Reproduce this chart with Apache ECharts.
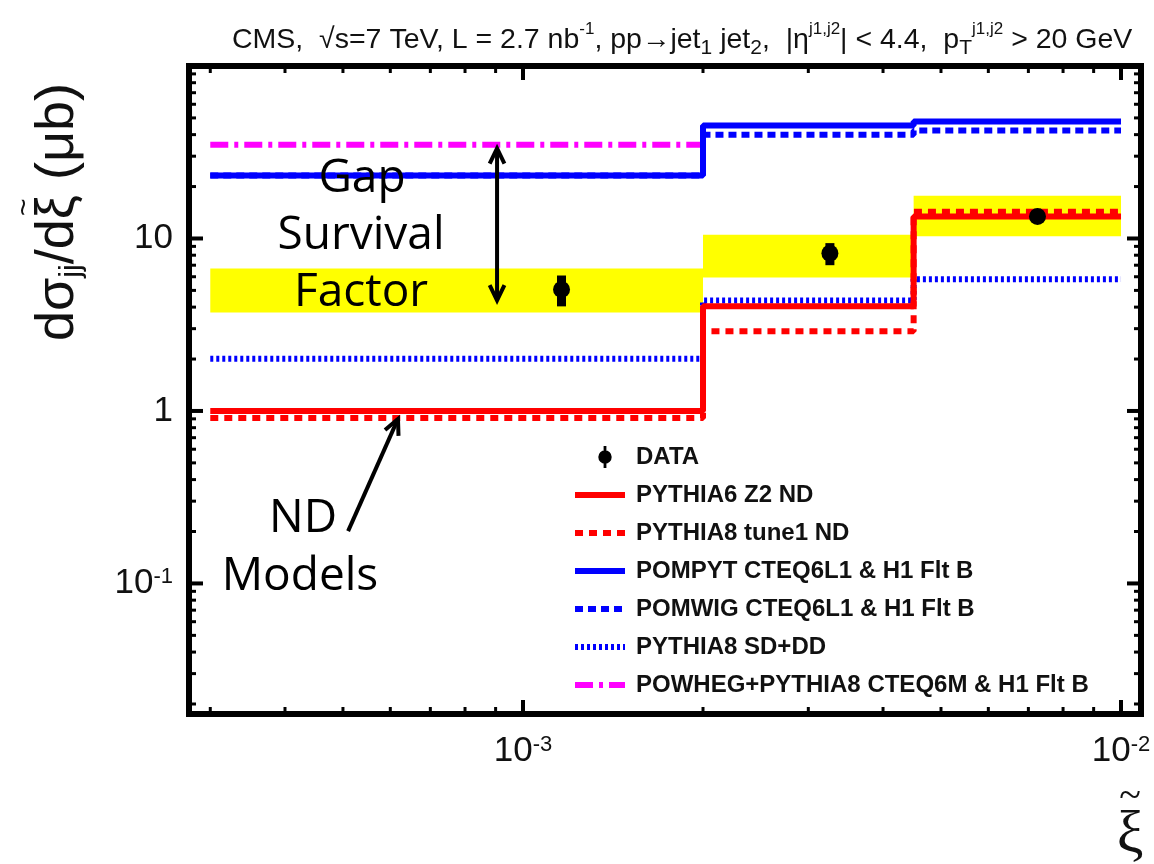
<!DOCTYPE html>
<html>
<head>
<meta charset="utf-8">
<script src="https://cdn.jsdelivr.net/npm/echarts@6/dist/echarts.min.js"></script>
<style>
html,body{margin:0;padding:0;background:#fff;}
#chart{width:1154px;height:864px;}
</style>
</head>
<body>
<div id="chart"></div>
<script>
// ---------- data ----------
const binEdges = [0.0003, 0.002, 0.0045, 0.01];

const pythia6Z2ND     = [1.0, 4.05, 13.4];
const pythia8Tune1ND  = [0.91, 2.9, 14.3];
const pompyt          = [23.2, 45.2, 47.7];
const pomwig          = [23.2, 40.0, 42.3];
const pythia8SDDD     = [2.01, 4.37, 5.8];
const powhegPythia8   = [35.0];          // first bin only

const bandLow  = [3.72, 5.94, 10.3];
const bandHigh = [6.7, 10.5, 17.7];

const dataX    = [0.00116, 0.00326, 0.00725];
const dataY    = [5.06, 8.2, 13.4];
const dataLow  = [4.04, 7.0, 12.7];
const dataHigh = [6.1, 9.4, 14.1];

const xMajorTicks = [0.001, 0.01];
const xMinorTicks = [0.0003, 0.0004, 0.0005, 0.0006, 0.0007, 0.0008, 0.0009,
                     0.002, 0.003, 0.004, 0.005, 0.006, 0.007, 0.008, 0.009];
const yMajorTicks = [0.1, 1, 10];
const yMinorTicks = [0.02, 0.03, 0.04, 0.05, 0.06, 0.07, 0.08, 0.09,
                     0.2, 0.3, 0.4, 0.5, 0.6, 0.7, 0.8, 0.9,
                     2, 3, 4, 5, 6, 7, 8, 9,
                     20, 30, 40, 50, 60, 70, 80, 90];

const legendNames = ['DATA', 'PYTHIA6 Z2 ND', 'PYTHIA8 tune1 ND', 'POMPYT CTEQ6L1 & H1 Flt B',
                     'POMWIG CTEQ6L1 & H1 Flt B', 'PYTHIA8 SD+DD', 'POWHEG+PYTHIA8 CTEQ6M & H1 Flt B'];

// annotation arrows (data coordinates): [x1, y1, x2, y2, doubleHeaded]
const gapArrow = [0.000905, 33.3, 0.000905, 4.37, 1];
const ndArrow  = [0.000510, 0.201, 0.000618, 0.899, 0];

const xMin = 0.0002764, xMax = 0.0108;
const yMin = 0.0175, yMax = 100;

// ---------- helpers ----------
function stepData(vals) {
  const out = [];
  for (let i = 0; i < vals.length; i++) out.push([binEdges[i], vals[i]]);
  out.push([binEdges[vals.length], vals[vals.length - 1]]);
  return out;
}
function powLabel(v, hideTop) {
  const e = Math.log10(v);
  const r = Math.round(e);
  if (Math.abs(e - r) > 1e-6) return '';
  if (hideTop && r === 2) return '';
  if (r === 0) return '1';
  if (r === 1) return '10';
  return '10{sup|' + r + '}';
}
const FAM = '"Liberation Sans", Arial, Helvetica, sans-serif';
const mctx = document.createElement('canvas').getContext('2d');
function tw(txt, size) { mctx.font = size + 'px ' + FAM; return mctx.measureText(txt).width; }

const tickData = [];
xMajorTicks.forEach(v => tickData.push([v, 1, 0, 1]));
xMinorTicks.forEach(v => tickData.push([v, 1, 0, 0]));
yMajorTicks.forEach(v => tickData.push([0.001, v, 1, 1]));
yMinorTicks.forEach(v => tickData.push([0.001, v, 1, 0]));

const bandData = bandLow.map((lo, i) => [binEdges[i], binEdges[i + 1], lo, bandHigh[i]]);
const pointData = dataX.map((x, i) => [x, dataY[i], dataLow[i], dataHigh[i]]);

function stepSeries(name, vals, color, type, z) {
  return {
    name: name, type: 'line', step: 'end', data: stepData(vals),
    symbol: 'none', silent: true, z: z,
    lineStyle: { color: color, width: 6, type: type, cap: 'butt' },
    itemStyle: { color: color }
  };
}

// ---- y axis name built as rotated group (tilde placed over xi) ----
const YS = 54, YSUB = 30;
const w1 = tw('d\u03C3', YS), wSub = tw('jj', YSUB), w2 = tw('/d', YS), wXi = tw('\u03BE', YS), w3 = tw(' (\u03BCb)', YS);
const yNameW = w1 + wSub + w2 + wXi + w3;
const xXi = w1 + wSub + w2;
const yNameStyle = (t, s) => ({ text: t, fill: '#111', font: s + 'px ' + FAM, align: 'left', verticalAlign: 'middle' });
const yNameGroup = {
  type: 'group', x: 58, y: 212 + yNameW / 2, rotation: Math.PI / 2, z: 10,
  children: [
    { type: 'text', x: 0, y: 0, style: yNameStyle('d\u03C3', YS) },
    { type: 'text', x: w1, y: 14, style: yNameStyle('jj', YSUB) },
    { type: 'text', x: w1 + wSub, y: 0, style: yNameStyle('/d', YS) },
    { type: 'text', x: xXi, y: 0, style: yNameStyle('\u03BE', YS) },
    { type: 'text', x: xXi + wXi / 2, y: -33, style: Object.assign(yNameStyle('~', 30), { align: 'center' }) },
    { type: 'text', x: xXi + wXi, y: 0, style: yNameStyle(' (\u03BCb)', YS) }
  ]
};

const chart = echarts.init(document.getElementById('chart'), null, { renderer: 'canvas' });

const ann = (t, x, y) => ({ type: 'text', x: x, y: y, z: 10,
  style: { text: t, fill: '#000', font: '46px "Open Sans", sans-serif', align: 'center', verticalAlign: 'middle' } });

const option = {
  animation: false,
  backgroundColor: '#fff',
  title: {
    text: 'CMS,  \u221As=7 TeV, L = 2.7 nb{sup|-1}, pp\u2192jet{sub|1} jet{sub|2},  |\u03B7{sup|j1,j2}| < 4.4,  p{sub|T}{sup|j1,j2} > 20 GeV',
    left: 227, top: 16,
    textStyle: {
      fontFamily: FAM, fontSize: 28.5, fontWeight: 'normal', color: '#111', lineHeight: 38,
      rich: {
        sup: { fontSize: 17, verticalAlign: 'top', lineHeight: 17, fontFamily: FAM, color: '#111' },
        sub: { fontSize: 21, verticalAlign: 'bottom', lineHeight: 19, fontFamily: FAM, color: '#111' }
      }
    }
  },
  grid: {
    left: 189, right: 13, top: 66, bottom: 150,
    show: true, borderColor: '#000', borderWidth: 6, backgroundColor: '#fff'
  },
  xAxis: {
    type: 'log', logBase: 10, min: xMin, max: xMax,
    axisLine: { show: false }, axisTick: { show: false }, splitLine: { show: false },
    axisLabel: {
      margin: 20, color: '#111', fontFamily: FAM, fontSize: 35,
      formatter: v => powLabel(v, false),
      rich: { sup: { fontSize: 22, verticalAlign: 'top', lineHeight: 20, fontFamily: FAM, color: '#111' } }
    }
  },
  yAxis: {
    type: 'log', logBase: 10, min: yMin, max: yMax,
    axisLine: { show: false }, axisTick: { show: false }, splitLine: { show: false },
    axisLabel: {
      margin: 16, color: '#111', fontFamily: FAM, fontSize: 35,
      formatter: v => powLabel(v, true),
      rich: { sup: { fontSize: 22, verticalAlign: 'top', lineHeight: 20, fontFamily: FAM, color: '#111' } }
    }
  },
  legend: {
    orient: 'vertical', left: 567, top: 440,
    itemWidth: 50, itemHeight: 22, itemGap: 14,
    selectedMode: false,
    itemStyle: { opacity: 0 },
    lineStyle: { width: 6 },
    textStyle: { fontFamily: FAM, fontWeight: 'bold', fontSize: 24, color: '#111',
                 lineHeight: 22, padding: [0, 0, 0, 6] },
    data: legendNames.map((n, i) => i === 0
      ? { name: n, icon: 'path://M0,11L0.1,11L0,11.1Z M50,11L49.9,11L50,11.1Z M28.6,0L31.4,0L31.4,22L28.6,22Z M23.3,11A6.7,6.7 0 1,1 36.7,11A6.7,6.7 0 1,1 23.3,11Z',
          itemStyle: { color: '#000', opacity: 1 } }
      : n)
  },
  graphic: [
    yNameGroup,
    { type: 'text', x: 1130, y: 836, z: 10,
      style: { text: '\u03BE', fill: '#111', font: '60px "Liberation Serif", "DejaVu Serif", serif',
               align: 'center', verticalAlign: 'middle' } },
    { type: 'text', x: 1130, y: 797, z: 10,
      style: { text: '~', fill: '#111', font: '40px "Liberation Serif", "DejaVu Serif", serif',
               align: 'center', verticalAlign: 'middle' } },
    ann('Gap', 362, 179), ann('Survival', 361, 236), ann('Factor', 361, 293),
    ann('ND', 303, 519), ann('Models', 300, 577)
  ],
  series: [
    {
      name: 'bands', type: 'custom', silent: true, z: 1,
      data: bandData, encode: { x: [0, 1], y: [2, 3] },
      renderItem: function (params, api) {
        const p0 = api.coord([api.value(0), api.value(3)]);
        const p1 = api.coord([api.value(1), api.value(2)]);
        return { type: 'rect', shape: { x: p0[0], y: p0[1], width: p1[0] - p0[0], height: p1[1] - p0[1] },
                 style: { fill: '#ffff00' } };
      }
    },
    stepSeries(legendNames[5], pythia8SDDD, '#0000ff', [3, 3], 2),
    stepSeries(legendNames[4], pomwig, '#0000ff', [8, 5], 2),
    stepSeries(legendNames[3], pompyt, '#0000ff', 'solid', 3),
    stepSeries(legendNames[6], powhegPythia8, '#ff00ff', [18, 6, 4, 6], 2),
    stepSeries(legendNames[2], pythia8Tune1ND, '#ff0000', [8, 6], 2),
    stepSeries(legendNames[1], pythia6Z2ND, '#ff0000', 'solid', 3),
    {
      name: legendNames[0], type: 'custom', silent: true, z: 4,
      itemStyle: { color: '#000' },
      data: pointData, encode: { x: 0, y: [1, 2, 3] },
      renderItem: function (params, api) {
        const c = api.coord([api.value(0), api.value(1)]);
        const lo = api.coord([api.value(0), api.value(2)]);
        const hi = api.coord([api.value(0), api.value(3)]);
        return { type: 'group', children: [
          { type: 'line', shape: { x1: lo[0], y1: lo[1], x2: hi[0], y2: hi[1] },
            style: { stroke: '#000', lineWidth: 9 } },
          { type: 'circle', shape: { cx: c[0], cy: c[1], r: 8.5 }, style: { fill: '#000' } }
        ] };
      }
    },
    {
      name: 'arrows', type: 'custom', silent: true, z: 6,
      data: [gapArrow, ndArrow], encode: { x: [0, 2], y: [1, 3] },
      renderItem: function (params, api) {
        const a = api.coord([api.value(0), api.value(1)]);
        const b = api.coord([api.value(2), api.value(3)]);
        const dbl = api.value(4) === 1;
        const L = 17, ang = Math.PI / 7;
        function head(tip, from) {
          const t = Math.atan2(from[1] - tip[1], from[0] - tip[0]);
          return { type: 'polyline', shape: { points: [
              [tip[0] + L * Math.cos(t + ang), tip[1] + L * Math.sin(t + ang)],
              tip,
              [tip[0] + L * Math.cos(t - ang), tip[1] + L * Math.sin(t - ang)] ] },
            style: { stroke: '#000', lineWidth: 4, fill: null, lineJoin: 'miter' } };
        }
        const ch = [
          { type: 'line', shape: { x1: a[0], y1: a[1], x2: b[0], y2: b[1] },
            style: { stroke: '#000', lineWidth: 4 } },
          head(b, a)
        ];
        if (dbl) ch.push(head(a, b));
        return { type: 'group', children: ch };
      }
    },
    {
      name: 'ticks', type: 'custom', silent: true, z: 7,
      data: tickData, encode: { x: 0, y: 1 },
      renderItem: function (params, api) {
        const cs = params.coordSys;
        const isY = api.value(2) === 1;
        const major = api.value(3) === 1;
        const len = major ? 14 : 7;
        const lw = major ? 4 : 3;
        const st = { stroke: '#000', lineWidth: lw };
        if (!isY) {
          const px = api.coord([api.value(0), 1])[0];
          return { type: 'group', children: [
            { type: 'line', shape: { x1: px, y1: cs.y + cs.height, x2: px, y2: cs.y + cs.height - len }, style: st },
            { type: 'line', shape: { x1: px, y1: cs.y, x2: px, y2: cs.y + len }, style: st }
          ] };
        }
        const py = api.coord([0.001, api.value(1)])[1];
        return { type: 'group', children: [
          { type: 'line', shape: { x1: cs.x, y1: py, x2: cs.x + len, y2: py }, style: st },
          { type: 'line', shape: { x1: cs.x + cs.width, y1: py, x2: cs.x + cs.width - len, y2: py }, style: st }
        ] };
      }
    }
  ]
};
chart.setOption(option);
</script>
</body>
</html>
